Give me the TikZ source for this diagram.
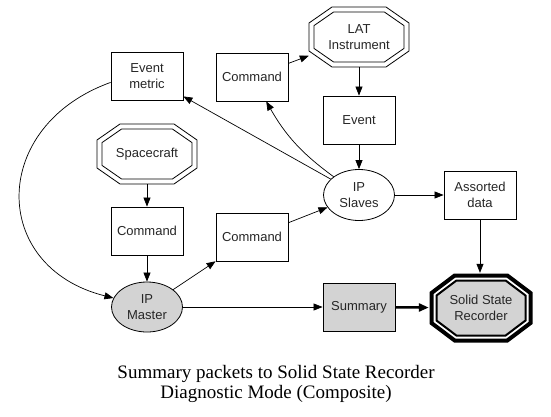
\documentclass[tikz,border=0pt]{standalone}
\usepackage{fontspec}
\setmainfont{Liberation Serif}
\newfontfamily\nodefont{Liberation Sans}
\usetikzlibrary{shapes.geometric,arrows.meta,calc}
\definecolor{lgray}{RGB}{211,211,211}
\newcommand\octo[6]{% #1 opts, #2 node, #3 A, #4 B, #5 T, #6 S
\draw[#1] ($(#2.center)+(-#5,-#4)$) -- ($(#2.center)+(#5,-#4)$) -- ($(#2.center)+(#3,-#6)$) -- ($(#2.center)+(#3,#6)$) -- ($(#2.center)+(#5,#4)$) -- ($(#2.center)+(-#5,#4)$) -- ($(#2.center)+(-#3,#6)$) -- ($(#2.center)+(-#3,-#6)$) -- cycle;}
\begin{document}
\begin{tikzpicture}[x=1pt,y=-1pt,
  txt/.style={font=\nodefont\fontsize{13}{15.5}\selectfont, align=center, text=black!85},
  box/.style={txt, draw, rectangle, minimum width=72pt, minimum height=48pt, inner sep=0pt, line width=0.8pt},
  ell/.style={txt, draw, ellipse, minimum width=71pt, minimum height=51pt, inner sep=0pt, line width=0.8pt},
  octn/.style={txt, rectangle, inner sep=0pt, minimum width=100pt, minimum height=60pt},
  arr/.style={-{Triangle[length=9pt,width=7pt]}, line width=0.7pt},
]
\useasboundingbox (0,0) rectangle (551,416);

% nodes
\node[box] (emet) at (147,76) {Event\\metric};
\node[box] (cmdt) at (252,77) {Command};
\node[octn] (lat) at (359,37) {LAT\\Instrument};
\octo{line width=0.8pt}{lat}{50}{30}{27}{14}
\octo{line width=0.8pt}{lat}{45}{25}{25.4}{11.4}
\node[box] (event) at (359,120) {Event};
\node[ell] (slaves) at (359,195) {IP\\Slaves};
\node[box] (assorted) at (480,195) {Assorted\\data};
\node[octn] (space) at (147,154) {Spacecraft};
\octo{line width=0.8pt}{space}{50}{30}{27}{14}
\octo{line width=0.8pt}{space}{45}{25}{25.4}{11.4}
\node[box] (cmdl) at (147,231) {Command};
\node[box] (cmdm) at (252,237) {Command};
\node[ell, fill=lgray, minimum height=50pt] (master) at (147,307) {IP\\Master};
\node[box, fill=lgray] (summary) at (359,307) {Summary};
\coordinate (ssrc) at (481,308);
\octo{fill=lgray, draw=none}{ssrc}{44.5}{27.5}{24.6}{12.5}
\octo{line width=4pt}{ssrc}{49.5}{32.5}{26.3}{15}
\octo{line width=2pt}{ssrc}{44.5}{27.5}{24.6}{12.5}
\node[octn, minimum width=104pt, minimum height=70pt] (ssr) at (ssrc) {Solid State\\Recorder};

% edges
\draw[arr] (lat) -- (event);
\draw[arr] (event) -- (slaves);
\draw[arr] (slaves) -- (emet);
\draw[arr] (slaves) to[bend left=12] (cmdt);
\draw[arr] (cmdt) -- (lat);
\draw[arr] (slaves) -- (assorted);
\draw[arr] (assorted.south) -- (ssr.north -| assorted.south);
\draw[arr] (space) -- (cmdl);
\draw[arr] (cmdl) -- (master);
\draw[arr] (master) -- (cmdm);
\draw[arr] (cmdm) -- (slaves);
\draw[arr] (master) -- (summary);
\draw[-{Triangle[length=10pt,width=8pt]}, line width=2.5pt] (summary) -- (ssr);
\draw[arr] (emet.190) .. controls (-10.5,126) and (-10.5,267) .. (master.165);

% caption
\node[align=center, font=\fontsize{19}{20.5}\selectfont] (cap) at (276,384) {Summary packets to Solid State Recorder\\Diagnostic Mode (Composite)};
\end{tikzpicture}
\end{document}
